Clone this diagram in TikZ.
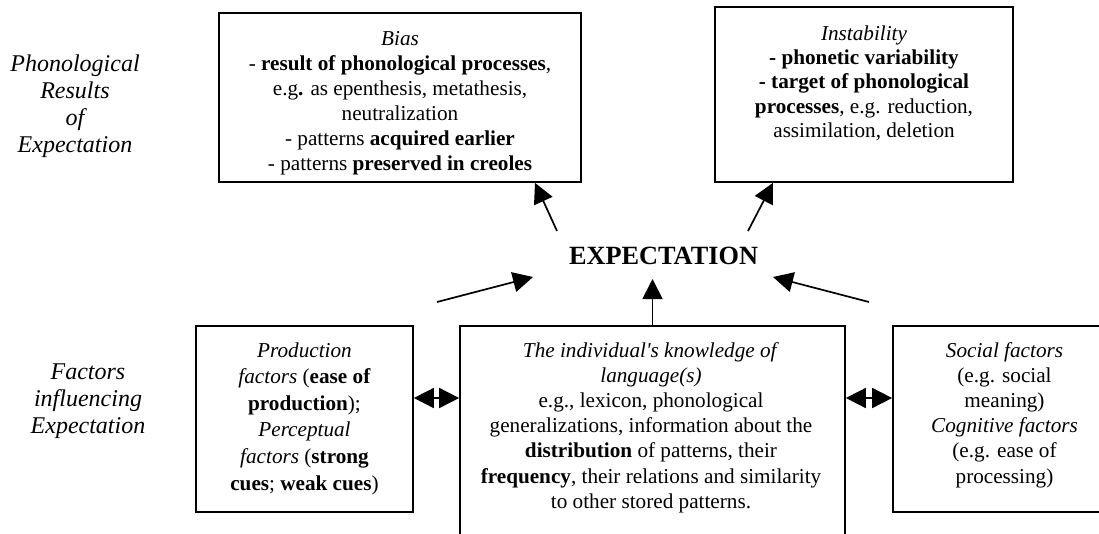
\documentclass[tikz,border=0pt]{standalone}
\usepackage{fontspec}
\setmainfont{Liberation Serif}
\usetikzlibrary{arrows.meta}
\begin{document}
\begin{tikzpicture}[x=1pt,y=-1pt,
  box/.style={draw, line width=1.7pt, inner sep=0pt},
  txt/.style={align=center, inner sep=0pt, font=\fontsize{21.2}{25}\selectfont},
  lab/.style={align=center, inner sep=0pt, font=\fontsize{24}{27}\selectfont\itshape},
  arr/.style={line width=1.7pt, -{Triangle[length=20pt,width=20pt]}},
  dbl/.style={line width=1.7pt, {Triangle[length=20pt,width=20pt]}-{Triangle[length=20pt,width=20pt]}}]
\useasboundingbox (0,0) rectangle (1099,533);
\clip (0,0) rectangle (1099,533);
\fill[white] (0,0) rectangle (1099,533);

% side labels
\node[lab] (phon) at (75,106) {Phonological\\Results\\of\\Expectation};
\node[lab] (fact) at (88,401.5) {Factors\\influencing\\Expectation};

% boxes
\node[box, minimum width=362pt, minimum height=169pt] (bias) at (400,97.5) {};
\node[box, minimum width=298pt, minimum height=175pt] (instab) at (864,94.5) {};
\node[box, minimum width=217pt, minimum height=186pt] (prod) at (304.5,419) {};
\node[box, minimum width=385pt, minimum height=240pt] (know) at (652.5,446) {};
\node[box, minimum width=223pt, minimum height=186pt] (social) at (1004.5,419) {};

% texts
\node[txt] (biastxt) at (400,103.5) {\textit{Bias}\\
- \textbf{result of phonological processes},\\
e.g\textbf{.} as epenthesis, metathesis,\\
neutralization\\
- patterns \textbf{acquired earlier}\\
- patterns \textbf{preserved in creoles}};
\node[txt, font=\fontsize{21.2}{24.3}\selectfont] (instabtxt) at (864,83) {\textit{Instability}\\
\textbf{- phonetic variability}\\
\textbf{- target of phonological}\\
\textbf{processes}, e.g. reduction,\\
assimilation, deletion};
\node[txt, font=\fontsize{21.2}{26.6}\selectfont] (prodtxt) at (304.5,418.5) {\textit{Production}\\
\textit{factors} (\textbf{ease of}\\
\textbf{production});\\
\textit{Perceptual}\\
\textit{factors} (\textbf{strong}\\
\textbf{cues}; \textbf{weak cues})};
\node[txt, font=\fontsize{21.2}{25.2}\selectfont] (knowtxt) at (651,427.5) {\textit{The individual\textquotesingle s knowledge of}\\
\textit{language(s)}\\
e.g., lexicon, phonological\\
generalizations, information about the\\
\textbf{distribution} of patterns, their\\
\textbf{frequency}, their relations and similarity\\
to other stored patterns.};
\node[txt, font=\fontsize{21.2}{25.2}\selectfont] (socialtxt) at (1004.5,415) {\textit{Social factors}\\
(e.g. social\\
meaning)\\
\textit{Cognitive factors}\\
(e.g. ease of\\
processing)};

% centre
\node[inner sep=0pt, font=\fontsize{26.3}{30}\selectfont\bfseries] (expect) at (663.5,255.5) {EXPECTATION};

% arrow end points
\coordinate (tailL) at (437,302);
\coordinate (tipL) at (533,277);
\coordinate (tailR) at (869,302);
\coordinate (tipR) at (773,277);
\coordinate (upTip) at (653,279);
\coordinate (bTail) at (557,231);
\coordinate (iTail) at (748,231);
\coordinate (dblY) at (0,398);

% arrows
\draw[arr] (tailL) -- (tipL);
\draw[arr] (tailR) -- (tipR);
\draw[arr] (know.north) -- (know.north |- upTip);
\draw[arr] (bTail) -- ([xshift=135pt]bias.south);
\draw[arr] (iTail) -- ([xshift=-91pt]instab.south);
\draw[dbl] (prod.east |- dblY) -- (know.west |- dblY);
\draw[dbl] (know.east |- dblY) -- (social.west |- dblY);
\end{tikzpicture}
\end{document}
